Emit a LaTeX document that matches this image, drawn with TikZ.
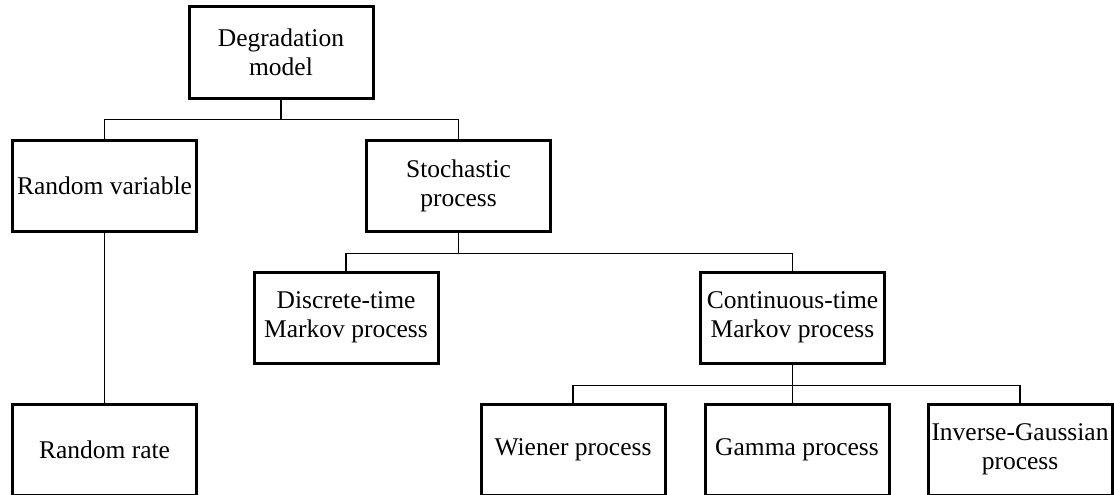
\documentclass[tikz,border=0pt]{standalone}
\usepackage{fontspec}
\setmainfont{Liberation Serif}
\usepackage{tikz}
\tikzset{
  box/.style={draw, line width=3pt, minimum width=184pt, minimum height=91pt, align=center, inner sep=2pt, font=\fontsize{25.5}{29}\selectfont},
  link/.style={line width=1.9pt}
}

\begin{document}
\begin{tikzpicture}[x=1pt, y=-1pt]
			%%%%% START %%%%%
			\clip (0, 0) rectangle (1114, 495);
			
			\node[box] (deg) at (281, 52.5) {Degradation\\model};
			
			\node[box] (rv) at (104.5, 185.5) {Random variable};
			\node[box] (sp) at (458.5, 185.5) {Stochastic\\process};
			
			\node[box] (dt) at (346, 317.5) {Discrete-time\\Markov process};
			\node[box] (ct) at (792.5, 317.5) {Continuous-time\\Markov process};
			
			\node[box] (rr) at (104.5, 449.5) {Random rate};
			\node[box] (wp) at (573, 449.5) {Wiener process};
			\node[box] (gp) at (797, 449.5) {Gamma process};
			\node[box] (ig) at (1020, 449.5) {Inverse-Gaussian\\process};
			
			% first level
			\draw[link] (deg.south) -- ++(0, 20) coordinate (j1);
			\draw[link] (rv.north) |- (j1) -| (sp.north);
			
			% second level
			\draw[link] (rv.south) -- (rr.north);
			\draw[link] (sp.south) -- ++(0, 21) coordinate (j2);
			\draw[link] (dt.north) |- (j2) -| (ct.north);
			
			% third level
			\draw[link] (ct.south) -- ++(0, 21) coordinate (j3);
			\draw[link] (wp.north) |- (j3) -| (ig.north);
			\draw[link] (j3) -- (j3 |- gp.north);
			
			%%%%% END %%%%%
		\end{tikzpicture}
\end{document}
